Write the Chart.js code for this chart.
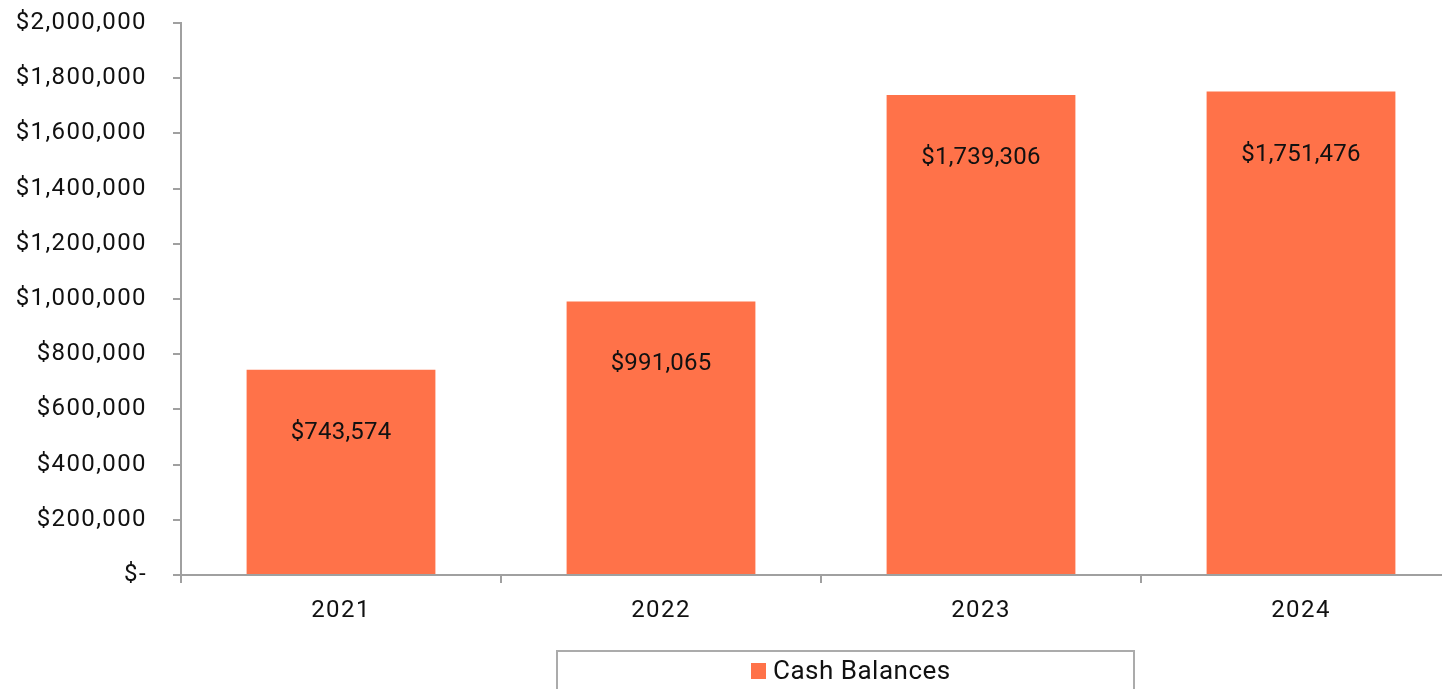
<!DOCTYPE html>
<html>
<head>
<meta charset="utf-8">
<script src="https://cdn.jsdelivr.net/npm/chart.js@4/dist/chart.umd.min.js"></script>
<style>
  html, body { margin: 0; padding: 0; background: #fff; overflow: hidden; }
  #wrap { position: absolute; left: 0; top: 0; width: 1470px; height: 689px; }
</style>
</head>
<body>
<div id="wrap"><canvas id="c"></canvas></div>
<script>
const categories = ['2021', '2022', '2023', '2024'];
const seriesName = 'Cash Balances';
const cashBalances = [743574, 991065, 1739306, 1751476];
const yTickValues = [0, 200000, 400000, 600000, 800000, 1000000, 1200000, 1400000, 1600000, 1800000, 2000000];

const BAR_COLOR = '#FF7249';
const AXIS_COLOR = '#A0A0A0';
const FONT = 'Roboto';

function money(v) {
  if (v === 0) return '$-';
  return '$' + v.toLocaleString('en-US');
}

const spacingPlugin = {
  id: 'spacing',
  beforeDraw(chart) { chart.ctx.letterSpacing = '1.4px'; }
};

const labelPlugin = {
  id: 'barLabels',
  afterDatasetsDraw(chart) {
    const ctx = chart.ctx;
    const meta = chart.getDatasetMeta(0);
    ctx.save();
    ctx.letterSpacing = '0.2px';
    ctx.font = '24px ' + FONT;
    ctx.fillStyle = '#111';
    ctx.textAlign = 'center';
    ctx.textBaseline = 'middle';
    meta.data.forEach((bar, i) => {
      ctx.fillText(money(cashBalances[i]), bar.x, bar.y + 63);
    });
    ctx.restore();
  }
};

const legendPlugin = {
  id: 'boxLegend',
  afterDraw(chart) {
    const ctx = chart.ctx;
    ctx.save();
    ctx.strokeStyle = '#ABABAB';
    ctx.lineWidth = 2;
    ctx.strokeRect(557, 651, 577, 60);
    ctx.font = '26px ' + FONT;
    ctx.letterSpacing = '0.5px';
    const tw = ctx.measureText(seriesName).width;
    const sw = 15, gap = 7;
    const total = sw + gap + tw;
    const x0 = Math.round((557 + 1134) / 2 - total / 2) + 5;
    ctx.fillStyle = BAR_COLOR;
    ctx.fillRect(x0, 663, sw, 16);
    ctx.fillStyle = '#111';
    ctx.textBaseline = 'middle';
    ctx.textAlign = 'left';
    ctx.fillText(seriesName, x0 + sw + gap, 672);
    ctx.restore();
  }
};

new Chart(document.getElementById('c'), {
  type: 'bar',
  data: {
    labels: categories,
    datasets: [{
      label: seriesName,
      data: cashBalances,
      backgroundColor: BAR_COLOR,
      borderWidth: 0,
      categoryPercentage: 1,
      barPercentage: 0.59
    }]
  },
  options: {
    responsive: true,
    maintainAspectRatio: false,
    animation: false,
    layout: { padding: { left: 0, right: 9, top: 23, bottom: 64 } },
    plugins: { legend: { display: false }, tooltip: { enabled: false } },
    scales: {
      x: {
        grid: { display: true, drawOnChartArea: false, drawTicks: true, tickLength: 8, color: AXIS_COLOR, lineWidth: 2, offset: true },
        border: { display: true, color: AXIS_COLOR, width: 2 },
        ticks: { color: '#111', font: { family: FONT, size: 24 }, padding: 14, maxRotation: 0 },
        afterFit(s) { s.height = 50; s.paddingLeft = 0; s.paddingRight = 0; }
      },
      y: {
        min: 0, max: 2000000,
        afterBuildTicks(s) { s.ticks = yTickValues.map(v => ({ value: v })); },
        grid: { display: true, drawOnChartArea: false, drawTicks: true, tickLength: 8, color: AXIS_COLOR, lineWidth: 2 },
        border: { display: true, color: AXIS_COLOR, width: 2 },
        ticks: { color: '#111', font: { family: FONT, size: 24 }, padding: 26, callback: (v) => money(v) },
        afterFit(s) { s.width = 181; s.paddingTop = 0; s.paddingBottom = 0; }
      }
    }
  },
  plugins: [spacingPlugin, labelPlugin, legendPlugin]
});
</script>
</body>
</html>
